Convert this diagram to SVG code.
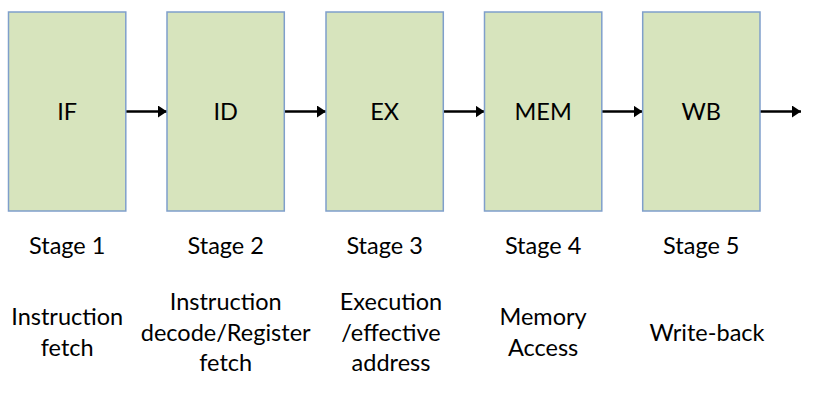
<svg xmlns="http://www.w3.org/2000/svg" width="830" height="401" viewBox="0 0 830 401">
<style>
.box{fill:#d7e4bd;stroke:#7f9fcb;stroke-width:1.5}
text{font-family:Lato,"Open Sans","Liberation Sans",sans-serif;font-size:23.5px;fill:#000;text-anchor:middle}
.conn{stroke:#000;stroke-width:2.5;fill:none;marker-end:url(#ah)}
</style>
<defs>
<marker id="ah" markerWidth="10" markerHeight="12" refX="9" refY="6" orient="auto" markerUnits="userSpaceOnUse">
<path d="M0,0 L9,6 L0,12 Z" fill="#000"/>
</marker>
</defs>
<rect width="830" height="401" fill="#fff"/>
<g id="connectors">
<line class="conn" x1="126" y1="111.5" x2="167" y2="111.5"/>
<line class="conn" x1="284.5" y1="111.5" x2="326" y2="111.5"/>
<line class="conn" x1="443" y1="111.5" x2="484.5" y2="111.5"/>
<line class="conn" x1="601.5" y1="111.5" x2="642.5" y2="111.5"/>
<line class="conn" x1="760" y1="111.5" x2="801" y2="111.5"/>
</g>
<g id="node-if">
<rect class="box" x="8.5" y="12" width="117.3" height="199"/>
<text x="67.2" y="120">IF</text>
<text x="67.2" y="254">Stage 1</text>
<text x="67.2" y="325">Instruction</text>
<text x="67.2" y="356">fetch</text>
</g>
<g id="node-id">
<rect class="box" x="167" y="12" width="117.3" height="199"/>
<text x="225.7" y="120">ID</text>
<text x="225.7" y="254">Stage 2</text>
<text x="225.7" y="310">Instruction</text>
<text x="225.7" y="340.5">decode/Register</text>
<text x="225.7" y="371">fetch</text>
</g>
<g id="node-ex">
<rect class="box" x="326" y="12" width="117.3" height="199"/>
<text x="384.6" y="120">EX</text>
<text x="384.6" y="254">Stage 3</text>
<text x="391" y="310">Execution</text>
<text x="391" y="340.5">/effective</text>
<text x="391" y="371">address</text>
</g>
<g id="node-mem">
<rect class="box" x="484.5" y="12" width="117.3" height="199"/>
<text x="543.1" y="120">MEM</text>
<text x="543.1" y="254">Stage 4</text>
<text x="543.1" y="325">Memory</text>
<text x="543.1" y="356">Access</text>
</g>
<g id="node-wb">
<rect class="box" x="642.7" y="12" width="117.3" height="199"/>
<text x="701.3" y="120">WB</text>
<text x="701.3" y="254">Stage 5</text>
<text x="707" y="340.5">Write-back</text>
</g>
</svg>
